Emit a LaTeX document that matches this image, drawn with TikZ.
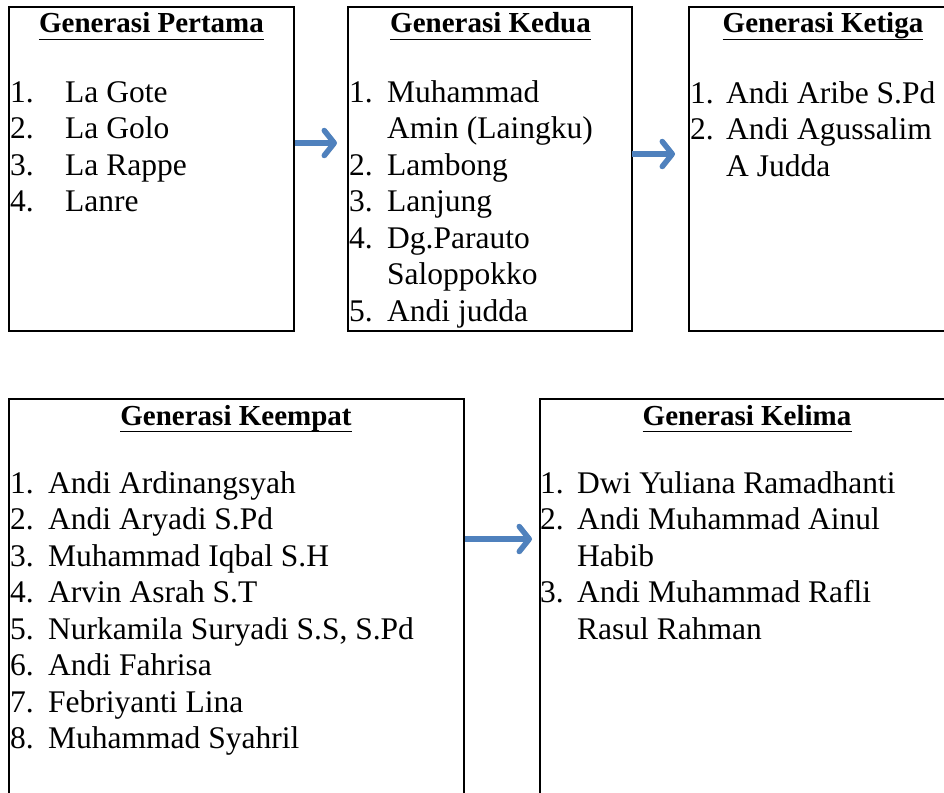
\documentclass[tikz,border=0pt]{standalone}
\usepackage{fontspec}
\setmainfont{Liberation Serif}
\usetikzlibrary{arrows.meta}
\definecolor{arrowblue}{RGB}{79,129,189}
% two columns: number, then name (wrapped names get an empty number cell)
\newcommand{\genlist}[2]{\begin{tabular}[t]{@{}p{#1}@{}l@{}}#2\end{tabular}}

\begin{document}
\begin{tikzpicture}[x=1pt,y=-1pt,
	gbox/.style={draw, line width=2pt, anchor=north west, inner sep=0pt, outer sep=0pt},
	ttl/.style={anchor=base, inner sep=0pt, font=\fontsize{29}{34}\selectfont\bfseries},
	lst/.style={anchor=base west, inner sep=0pt, font=\fontsize{31.5}{36.5}\selectfont},
	uline/.style={line width=1.8pt},
	arr/.style={draw=arrowblue, line width=5.5pt, -{Straight Barb[length=10pt,width=25pt,round]},
		preaction={draw=black, opacity=0.15, transform canvas={shift={(1.5pt,-2.5pt)}}}}]
	\clip (0,0) rectangle (944,792);

	% top row
	\node[gbox, minimum width=285pt, minimum height=324pt] (b1) at (9,7) {};
	\node[gbox, minimum width=284pt, minimum height=324pt] (b2) at (348,7) {};
	\node[gbox, minimum width=270pt, minimum height=324pt] (b3) at (689,7) {};

	\node[ttl] (t1) at (151.5,33) {Generasi Pertama};
	\node[ttl] (t2) at (490.5,33) {Generasi Kedua};
	\node[ttl] (t3) at (823,33) {Generasi Ketiga};
	\foreach \t in {t1,t2,t3}
		\draw[uline] ([yshift=-6.5pt]\t.base west) -- ([yshift=-6.5pt]\t.base east);

	\node[lst] (l1) at (10,102) {\genlist{55pt}{1. & La Gote\\ 2. & La Golo\\ 3. & La Rappe\\ 4. & Lanre}};
	\node[lst] (l2) at (349,102) {\genlist{38pt}{1. & Muhammad\\ & Amin (Laingku)\\ 2. & Lambong\\ 3. & Lanjung\\
		4. & Dg.Parauto\\ & Saloppokko\\ 5. & Andi judda}};
	\node[lst] (l3) at (690,103) {\genlist{36pt}{1. & Andi Aribe S.Pd\\ 2. & Andi Agussalim\\ & A Judda}};

	% bottom row
	\node[gbox, minimum width=455pt, minimum height=420pt] (b4) at (9,399) {};
	\node[gbox, minimum width=420pt, minimum height=420pt] (b5) at (540,399) {};

	\node[ttl] (t4) at (236,425) {Generasi Keempat};
	\node[ttl] (t5) at (747,425) {Generasi Kelima};
	\foreach \t in {t4,t5}
		\draw[uline] ([yshift=-6.5pt]\t.base west) -- ([yshift=-6.5pt]\t.base east);

	\node[lst] (l4) at (10,493) {\genlist{38pt}{1. & Andi Ardinangsyah\\ 2. & Andi Aryadi S.Pd\\ 3. & Muhammad Iqbal S.H\\
		4. & Arvin Asrah S.T\\ 5. & Nurkamila Suryadi S.S, S.Pd\\ 6. & Andi Fahrisa\\ 7. & Febriyanti Lina\\ 8. & Muhammad Syahril}};
	\node[lst] (l5) at (540,493) {\genlist{37pt}{1. & Dwi Yuliana Ramadhanti\\ 2. & Andi Muhammad Ainul\\ & Habib\\
		3. & Andi Muhammad Rafli\\ & Rasul Rahman}};

	% arrows between generations
	\draw[arr, shorten <=1pt, shorten >=11pt] ([yshift=26pt]b1.east) -- ([yshift=26pt]b2.west);
	\draw[arr, shorten >=14pt] ([yshift=15pt]b2.east) -- ([yshift=15pt]b3.west);
	\draw[arr, shorten <=1pt, shorten >=8pt] ([yshift=70pt]b4.east) -- ([yshift=70pt]b5.west);
\end{tikzpicture}
\end{document}
